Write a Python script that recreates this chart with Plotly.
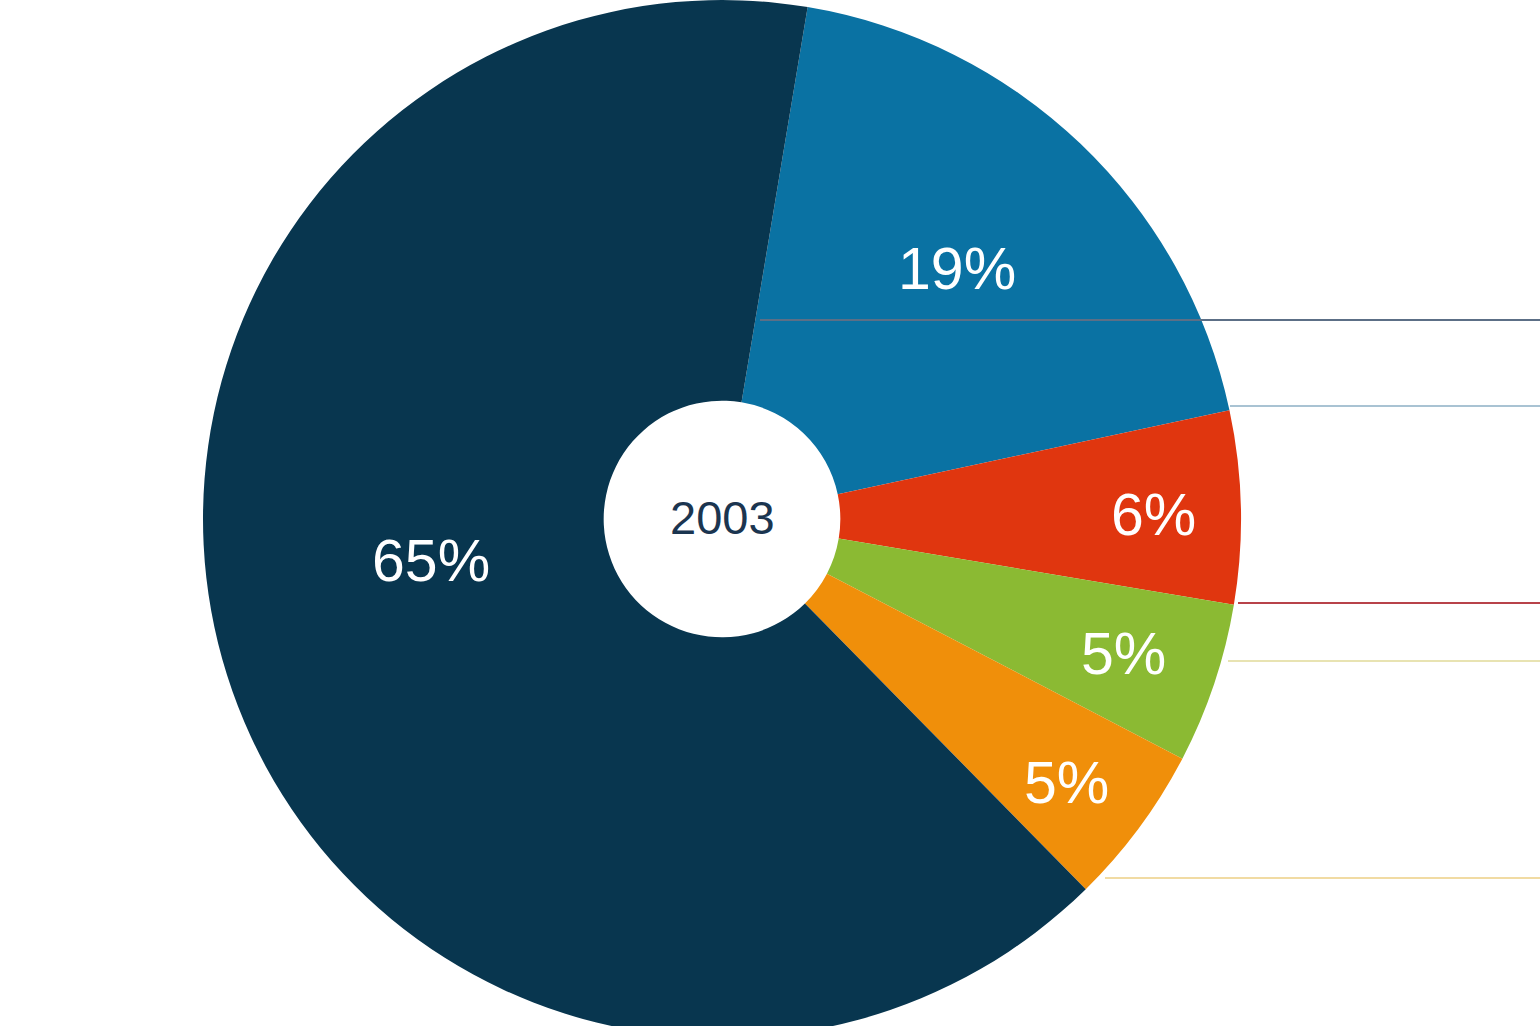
import math
import plotly.graph_objects as go

# Data
categories = ["Segment B", "Segment C", "Segment D", "Segment E", "Segment A"]
values = [19, 6, 5, 5, 65]
labels_text = ["19%", "6%", "5%", "5%", "65%"]
colors = ["#0a72a3", "#e0360f", "#8bba33", "#f08f0a", "#08364f"]
center_label = "2003"

# Label placement style: radial fraction and angle offset (deg) per slice
label_rfrac = [0.661, 0.831, 0.816, 0.837, 0.566]
label_dang = [-0.5, 0.8, 0.1, 1.0, 9.3]

# Leader lines on the right (pixel positions)
line_y_px = [320, 406, 603, 661, 878]
line_x0_px = [760, 1230, 1238, 1228, 1105]
line_colors = ["#5c6f86", "#a9c3d3", "#b8434a", "#e8e3b2", "#f1dba3"]

W, H = 1540, 1038
r = H / 2
cx, cy = 722, H / 2
rotation = 9.5
hole = 0.228

fig = go.Figure()
fig.add_trace(go.Pie(
    labels=categories,
    values=values,
    textinfo="none",
    marker=dict(colors=colors, line=dict(width=0)),
    hole=hole,
    sort=False,
    direction="clockwise",
    rotation=rotation,
    showlegend=False,
    hoverinfo="skip",
    domain=dict(x=[(cx - r) / W, (cx + r) / W], y=[0, 1]),
))

# Percentage labels positioned from the slice angles
total = sum(values)
annotations = []
start = rotation
for v, txt, rf, da in zip(values, labels_text, label_rfrac, label_dang):
    span = v / total * 360
    mid = math.radians(start + span / 2 + da)
    start += span
    px = cx + rf * r * math.sin(mid)
    py = cy - rf * r * math.cos(mid)
    annotations.append(dict(text=txt, x=px / W, y=1 - py / H, xref="paper", yref="paper",
                            showarrow=False, xanchor="center", yanchor="middle",
                            font=dict(family="Liberation Sans, Arial, sans-serif", size=59, color="white")))

annotations.append(dict(text=center_label, x=cx / W, y=1 - (cy - 2) / H, xref="paper", yref="paper",
                        showarrow=False, xanchor="center", yanchor="middle",
                        font=dict(family="Liberation Sans, Arial, sans-serif", size=47, color="#1b3550")))

shapes = []
for y, x0, c in zip(line_y_px, line_x0_px, line_colors):
    shapes.append(dict(type="line", xref="paper", yref="paper",
                       x0=x0 / W, x1=1, y0=1 - y / H, y1=1 - y / H,
                       line=dict(color=c, width=2), layer="above"))

fig.update_layout(
    width=W, height=H,
    margin=dict(l=0, r=0, t=0, b=0),
    paper_bgcolor="white",
    plot_bgcolor="white",
    shapes=shapes,
    annotations=annotations,
)

fig.write_html("out.html",
               config={"displayModeBar": False},
               post_script="document.body.style.margin='0';document.body.style.overflow='hidden';"
                           "document.documentElement.style.overflow='hidden';")
